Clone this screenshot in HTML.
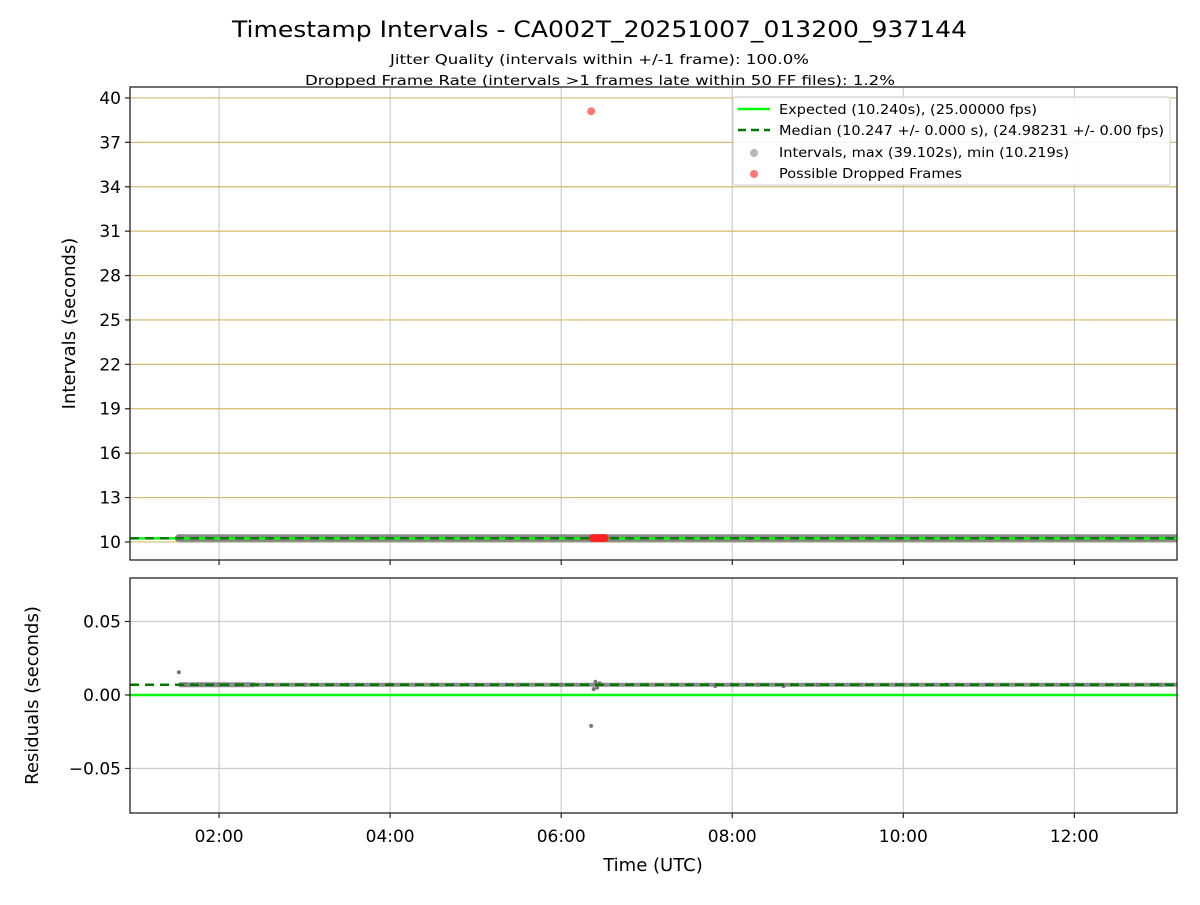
<!DOCTYPE html>
<html><head><meta charset="utf-8"><style>
body{margin:0;background:#fff;font-family:"Liberation Sans","DejaVu Sans",sans-serif}
svg text{font-family:"DejaVu Sans","Liberation Sans",sans-serif}
</style></head><body>
<svg id="c" width="1200" height="900" xmlns="http://www.w3.org/2000/svg">
<defs>
<clipPath id="ct"><rect x="130" y="87" width="1047" height="473"/></clipPath>
<clipPath id="cb"><rect x="130" y="578" width="1047" height="235"/></clipPath>
</defs>
<text x="232" y="37" font-size="22" textLength="735" lengthAdjust="spacingAndGlyphs">Timestamp Intervals - CA002T_20251007_013200_937144</text>
<text x="390" y="64" font-size="13" textLength="419" lengthAdjust="spacingAndGlyphs">Jitter Quality (intervals within +/-1 frame): 100.0%</text>
<text x="305" y="85" font-size="13" textLength="590" lengthAdjust="spacingAndGlyphs">Dropped Frame Rate (intervals &gt;1 frames late within 50 FF files): 1.2%</text>
<g id="topPanel"></g>
<g id="botPanel"></g>
</svg>
<script>
const xTicks=[2,4,6,8,10,12];
const xTickLabels=["02:00","04:00","06:00","08:00","10:00","12:00"];
const yTopTicks=[10,13,16,19,22,25,28,31,34,37,40];
const yBotTicks=[0.05,0,-0.05];
const yBotLabels=["0.05","0.00","\u22120.05"];
const expected=10.240;
const median=10.247;
const intervalTimes=[1.53,1.6,2.0,2.4,3.0,4.0,5.0,6.0,6.3,6.55,7.0,8.0,9.0,10.0,11.0,12.0,13.0,13.3];
const intervalValues=[10.255,10.247,10.247,10.247,10.247,10.247,10.247,10.247,10.247,10.247,10.247,10.247,10.247,10.247,10.247,10.247,10.247,10.247];
const droppedTimes=[6.35,6.37,6.4,6.43,6.46,6.49,6.51];
const droppedValues=[39.102,10.26,10.26,10.26,10.26,10.26,10.26];
const residTimes=[1.53,1.55,1.6,1.8,2.0,2.2,2.4,3.0,3.5,4.0,4.5,5.0,5.5,6.0,6.35,6.38,6.4,6.42,6.45,7.0,7.5,7.8,8.0,8.3,8.6,9.0,9.5,10.0,10.5,11.0,11.5,12.0,12.5,13.0];
const residValues=[0.0155,0.007,0.007,0.007,0.007,0.007,0.007,0.007,0.007,0.007,0.007,0.007,0.007,0.007,-0.021,0.004,0.009,0.005,0.008,0.007,0.007,0.006,0.007,0.007,0.006,0.007,0.007,0.007,0.007,0.007,0.007,0.007,0.007,0.007];

const NS="http://www.w3.org/2000/svg";
function el(p,t,a){const e=document.createElementNS(NS,t);for(const k in a)e.setAttribute(k,a[k]);p.appendChild(e);return e;}
const L=130,R=1177;
const xMin=0.9585,xMax=13.2;
const X=v=>L+(v-xMin)/(xMax-xMin)*(R-L);
const tT=87,tB=560,tMin=8.78,tMax=40.74;
const YT=v=>tB-(v-tMin)/(tMax-tMin)*(tB-tT);
const bT=578,bB=813,bMin=-0.0803,bMax=0.0796;
const YB=v=>bB-(v-bMin)/(bMax-bMin)*(bB-bT);

const tp=document.getElementById('topPanel'),bp=document.getElementById('botPanel');
xTicks.forEach((t,i)=>{
 const g=el(tp,'line',{x1:X(t),x2:X(t),y1:tT,y2:tB,stroke:'#cccccc','stroke-width':1.2});
 
 const k=el(tp,'line',{x1:X(t),x2:X(t),y1:tB,y2:tB+5,stroke:'#222','stroke-width':1.2});
 
});
yTopTicks.forEach(t=>{
 const g=el(tp,'line',{x1:L,x2:R,y1:YT(t),y2:YT(t),stroke:'#d4bb6e','stroke-width':1.2});
 
 el(tp,'line',{x1:L-5,x2:L,y1:YT(t),y2:YT(t),stroke:'#222','stroke-width':1.2});
 const tx=el(tp,'text',{x:L-9,y:YT(t)+6,'text-anchor':'end','font-size':17});
 tx.textContent=t;
 
});
const tc=el(tp,'g',{'clip-path':'url(#ct)'});

let pts=intervalTimes.map((t,i)=>X(t)+','+YT(intervalValues[i])).join(' ');
let s=el(tc,'polyline',{points:pts,fill:'none',stroke:'#8a8a8a','stroke-width':8,'stroke-linecap':'round'});

s=el(tc,'line',{x1:L,x2:R,y1:YT(expected),y2:YT(expected),stroke:'#00ff00','stroke-width':2.5});

s=el(tc,'line',{x1:L,x2:R,y1:YT(median),y2:YT(median),stroke:'#007700','stroke-width':2.5,'stroke-dasharray':'9,6'});

droppedTimes.forEach((t,i)=>{
 const c=el(tc,'circle',{cx:X(t),cy:YT(droppedValues[i]),r:4,fill:'#ff2020','fill-opacity':i==0?0.6:1});
 
});
s=el(tp,'rect',{x:L,y:tT,width:R-L,height:tB-tT,fill:'none',stroke:'#222','stroke-width':1.3});

let yl=el(tp,'text',{x:75,y:(tT+tB)/2,'text-anchor':'middle','font-size':18,transform:`rotate(-90 75 ${(tT+tB)/2})`});
yl.textContent='Intervals (seconds)';
const lg=el(tp,'g',{});

el(lg,'rect',{x:733,y:97,width:437,height:88,fill:'#fff','fill-opacity':0.85,stroke:'#ccc',rx:2});
el(lg,'line',{x1:738,x2:770,y1:109,y2:109,stroke:'#00ff00','stroke-width':2.5});
el(lg,'line',{x1:738,x2:770,y1:130,y2:130,stroke:'#007700','stroke-width':2.5,'stroke-dasharray':'8,5'});
el(lg,'circle',{cx:754,cy:153,r:4,fill:'#999','fill-opacity':0.7});
el(lg,'circle',{cx:754,cy:174,r:4,fill:'#ff2020','fill-opacity':0.6});
[["Expected (10.240s), (25.00000 fps)",114,'legend-expected',258],["Median (10.247 +/- 0.000 s), (24.98231 +/- 0.00 fps)",135,'legend-median',385],["Intervals, max (39.102s), min (10.219s)",157,'legend-intervals',290],["Possible Dropped Frames",178,'legend-dropped',183]].forEach(a=>{
 const t=el(lg,'text',{x:779,y:a[1],'font-size':13,textLength:a[3],lengthAdjust:'spacingAndGlyphs'});t.textContent=a[0];
 
});
xTicks.forEach((t,i)=>{
 el(bp,'line',{x1:X(t),x2:X(t),y1:bT,y2:bB,stroke:'#cccccc','stroke-width':1.2});
 el(bp,'line',{x1:X(t),x2:X(t),y1:bB,y2:bB+5,stroke:'#222','stroke-width':1.2});
 const tx=el(bp,'text',{x:X(t),y:bB+29,'text-anchor':'middle','font-size':17});
 tx.textContent=xTickLabels[i];
 
});
yBotTicks.forEach((t,i)=>{
 el(bp,'line',{x1:L,x2:R,y1:YB(t),y2:YB(t),stroke:'#cccccc','stroke-width':1.2});
 el(bp,'line',{x1:L-5,x2:L,y1:YB(t),y2:YB(t),stroke:'#222','stroke-width':1.2});
 const tx=el(bp,'text',{x:L-9,y:YB(t)+6,'text-anchor':'end','font-size':17});
 tx.textContent=yBotLabels[i];
 
});
const bc=el(bp,'g',{'clip-path':'url(#cb)'});

s=el(bc,'line',{x1:X(1.55),x2:X(2.4),y1:YB(0.007),y2:YB(0.007),stroke:'#8a8a8a','stroke-width':5,'stroke-linecap':'round'});

s=el(bc,'line',{x1:X(2.4),x2:R,y1:YB(0.007),y2:YB(0.007),stroke:'#8a8a8a','stroke-width':4});

residTimes.forEach((t,i)=>{
 const c=el(bc,'circle',{cx:X(t),cy:YB(residValues[i]),r:2,fill:'#777'});
 
});
s=el(bc,'line',{x1:L,x2:R,y1:YB(0),y2:YB(0),stroke:'#00ff00','stroke-width':2.5});

s=el(bc,'line',{x1:L,x2:R,y1:YB(median-expected),y2:YB(median-expected),stroke:'#007700','stroke-width':2.5,'stroke-dasharray':'9,6'});

s=el(bp,'rect',{x:L,y:bT,width:R-L,height:bB-bT,fill:'none',stroke:'#222','stroke-width':1.3});

yl=el(bp,'text',{x:38,y:(bT+bB)/2,'text-anchor':'middle','font-size':18,transform:`rotate(-90 38 ${(bT+bB)/2})`});
yl.textContent='Residuals (seconds)';
let xl=el(bp,'text',{x:653,y:871,'text-anchor':'middle','font-size':18});
xl.textContent='Time (UTC)';
</script>
</body></html>
